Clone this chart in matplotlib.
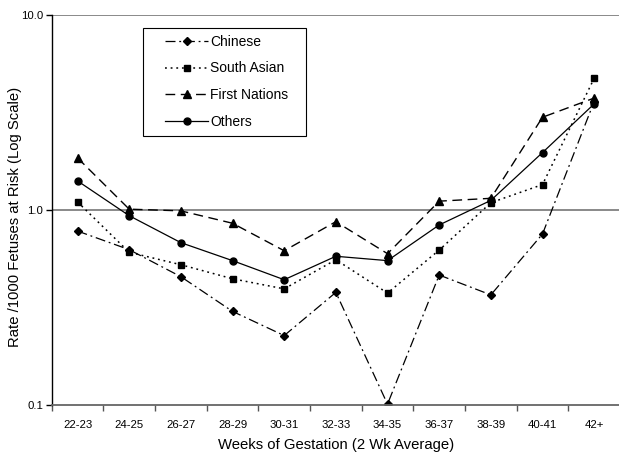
import matplotlib
matplotlib.use("Agg")
import matplotlib.pyplot as plt
from matplotlib.patches import Rectangle
from matplotlib.ticker import FixedLocator, FixedFormatter, NullLocator

plt.rcParams['font.family'] = ['Liberation Sans', 'DejaVu Sans']

categories = ["22-23", "24-25", "26-27", "28-29", "30-31", "32-33",
              "34-35", "36-37", "38-39", "40-41", "42+"]
chinese = [0.78, 0.626, 0.455, 0.302, 0.227, 0.378, 0.101, 0.464, 0.367, 0.753, 3.6]
south_asian = [1.10, 0.607, 0.524, 0.444, 0.394, 0.556, 0.375, 0.623, 1.09, 1.35, 4.74]
first_nations = [1.85, 1.01, 0.99, 0.855, 0.618, 0.871, 0.597, 1.11, 1.148, 2.99, 3.75]
others = [1.41, 0.935, 0.68, 0.55, 0.439, 0.579, 0.55, 0.838, 1.12, 1.97, 3.5]
y_ticks = [0.1, 1.0, 10.0]
y_tick_labels = ["0.1", "1.0", "10.0"]

W, H = 619, 457
fig = plt.figure(figsize=(W / 100, H / 100), dpi=100)
ax = fig.add_axes([51.7 / W, 1 - 405 / H, (620 - 51.7) / W, (405 - 15) / H])

x = list(range(len(categories)))
l1, = ax.plot(x, chinese, color='black', lw=0.9, ls=(0, (8, 3, 1.5, 3)),
              marker='D', ms=4.5, label='Chinese')
l2, = ax.plot(x, south_asian, color='black', lw=1.1, ls=(0, (1.2, 2.5)),
              marker='s', ms=5, label='South Asian')
l3, = ax.plot(x, first_nations, color='black', lw=1.0, ls=(0, (7, 4)),
              marker='^', ms=6, label='First Nations')
l4, = ax.plot(x, others, color='black', lw=0.9, ls='-',
              marker='o', ms=5, label='Others')

ax.set_yscale('log')
ax.set_ylim(0.1, 10.0)
ax.set_xlim(-0.5, len(categories) - 0.5)

ax.yaxis.set_major_locator(FixedLocator(y_ticks))
ax.yaxis.set_major_formatter(FixedFormatter(y_tick_labels))
ax.yaxis.set_minor_locator(NullLocator())
ax.set_xticks(x)
ax.set_xticklabels(categories)
ax.xaxis.set_minor_locator(FixedLocator([i - 0.5 for i in range(len(categories) + 1)]))
ax.tick_params(axis='x', which='major', length=0, pad=11, labelsize=8.2)
ax.tick_params(axis='x', which='minor', length=4, width=1, color='#555555', direction='out')
ax.tick_params(axis='y', which='major', length=4, width=1, color='black', labelsize=8.2, pad=2)

for v in [1.0, 10.0]:
    ax.axhline(v, color='#808080', lw=1.3, zorder=0.5)

ax.spines['top'].set_visible(False)
ax.spines['right'].set_visible(False)
ax.spines['left'].set_color('black')
ax.spines['left'].set_linewidth(1.0)
ax.spines['bottom'].set_color('#666666')
ax.spines['bottom'].set_linewidth(1.3)

fig.text(336 / W, 1 - 445 / H, 'Weeks of Gestation (2 Wk Average)',
         fontsize=10.7, ha='center', va='center')
fig.text(15 / W, 1 - 217 / H, 'Rate /1000 Fetuses at Risk (Log Scale)',
         fontsize=10.7, ha='center', va='center', rotation=90)

# legend box
fig.patches.append(Rectangle((143 / W, 1 - 136 / H), 163 / W, 108 / H,
                             transform=fig.transFigure, facecolor='white',
                             edgecolor='black', lw=0.8, zorder=4))
leg = fig.legend(handles=[l1, l2, l3, l4], loc='upper left',
                 bbox_to_anchor=(165 / W, 1 - 34.5 / H),
                 bbox_transform=fig.transFigure, frameon=False,
                 fontsize=10, handlelength=3.1, labelspacing=0.93,
                 borderpad=0, handletextpad=0.15, borderaxespad=0)
leg.set_zorder(5)

fig.savefig('out.png', dpi=100)
